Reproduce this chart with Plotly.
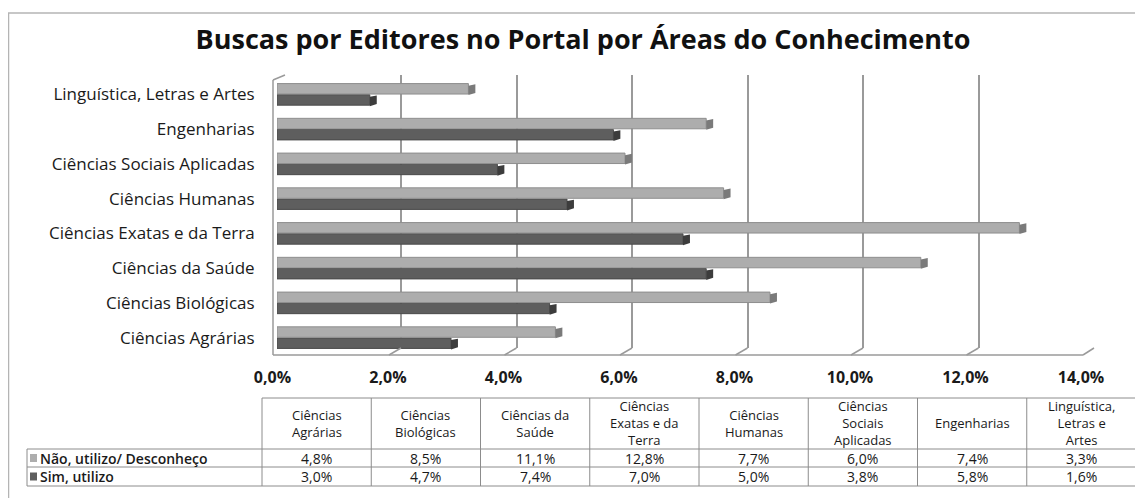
import plotly.graph_objects as go

# the page body adds an 8px margin, so the figure is drawn 8px in from the window edge
OFF = 8
W, H = 1143 - OFF, 498 - OFF

categories = ["Ciências Agrárias", "Ciências Biológicas", "Ciências da Saúde",
              "Ciências Exatas e da Terra", "Ciências Humanas",
              "Ciências Sociais Aplicadas", "Engenharias",
              "Linguística, Letras e Artes"]
header_labels = ["Ciências<br>Agrárias", "Ciências<br>Biológicas", "Ciências da<br>Saúde",
                 "Ciências<br>Exatas e da<br>Terra", "Ciências<br>Humanas",
                 "Ciências<br>Sociais<br>Aplicadas", "Engenharias",
                 "Linguística,<br>Letras e<br>Artes"]
nao = [4.8, 8.5, 11.1, 12.8, 7.7, 6.0, 7.4, 3.3]
sim = [3.0, 4.7, 7.4, 7.0, 5.0, 3.8, 5.8, 1.6]
series_names = ["Não, utilizo/ Desconheço", "Sim, utilizo"]
tick_vals = [0, 2, 4, 6, 8, 10, 12, 14]
tick_text = ["0,0%", "2,0%", "4,0%", "6,0%", "8,0%", "10,0%", "12,0%", "14,0%"]

LIGHT, DARK = "#adadad", "#5e5e5e"
GRID = "#9a9a9a"
FONT = "Open Sans"
TXT = "#1a1a1a"


def px(x):
    # screen pixel -> paper fraction
    return (x - OFF) / W


def py(y):
    return 1 - (y - OFF) / H


def pct(v):
    return f"{v:.1f}%".replace(".", ",")


fig = go.Figure()

# back wall grid lives on x/y, drawn first
fig.add_trace(go.Scatter(x=[0], y=[0], xaxis="x", yaxis="y", mode="markers",
                         marker=dict(opacity=0), hoverinfo="skip"))
# bars on x2/y2 so they sit in front of the grid (first trace lower in group)
fig.add_trace(go.Bar(y=categories, x=sim, orientation="h", name=series_names[1],
                     xaxis="x2", yaxis="y2",
                     marker=dict(color=DARK, line=dict(color="#4a4a4a", width=1))))
fig.add_trace(go.Bar(y=categories, x=nao, orientation="h", name=series_names[0],
                     xaxis="x2", yaxis="y2",
                     marker=dict(color=LIGHT, line=dict(color="#8e8e8e", width=1))))
# front floor axis carrying the tick labels
fig.add_trace(go.Scatter(x=[0], y=[0], xaxis="x3", yaxis="y", mode="markers",
                         marker=dict(opacity=0), hoverinfo="skip"))

shapes = []
# 3D end caps on the bars
for i in range(len(categories)):
    for v, off, col in [(sim[i], -0.2, "#3c3c3c"), (nao[i], 0.12, "#7a7a7a")]:
        shapes.append(dict(type="path", xref="x2", yref="y2", fillcolor=col,
                           line=dict(width=0),
                           path=f"M {v},{i + off - 0.14} L {v + 0.12},{i + off - 0.08} "
                                f"L {v + 0.12},{i + off + 0.17} L {v},{i + off + 0.13} Z"))

# walls and floor of the 3D frame
frame = [
    (273, 80, 273, 355), (273, 80, 285, 75),
    (273, 355, 1083, 355), (1083, 355, 1094, 348),
]
for x0, y0, x1, y1 in frame:
    shapes.append(dict(type="line", xref="paper", yref="paper",
                       x0=px(x0), y0=py(y0), x1=px(x1), y1=py(y1),
                       line=dict(color=GRID, width=1.5)))
for t in tick_vals[1:-1]:
    xb = 285.5 + t * 57.75
    shapes.append(dict(type="line", xref="paper", yref="paper",
                       x0=px(xb - 12), y0=py(355), x1=px(xb), y1=py(348),
                       line=dict(color=GRID, width=1.5)))

# outer chart border
shapes.append(dict(type="line", xref="paper", yref="paper", x0=px(8), y0=py(13),
                   x1=px(1160), y1=py(13), line=dict(color="#b4b4b4", width=1.5)))
shapes.append(dict(type="line", xref="paper", yref="paper", x0=px(8.5), y0=py(13),
                   x1=px(8.5), y1=py(520), line=dict(color="#b4b4b4", width=1.5)))

# data table
T_L, T_X0, T_X1 = 27, 262, 1136
T_Y0, T_Y1, T_Y2, T_Y3 = 398, 449, 467, 486
col_w = (T_X1 - T_X0) / len(categories)
tl = dict(color="#8c8c8c", width=1)
for k in range(len(categories) + 1):
    xx = T_X0 + k * col_w
    shapes.append(dict(type="line", xref="paper", yref="paper", x0=px(xx), y0=py(T_Y0),
                       x1=px(xx), y1=py(T_Y3), line=tl))
shapes.append(dict(type="line", xref="paper", yref="paper", x0=px(T_X0), y0=py(T_Y0),
                   x1=px(T_X1), y1=py(T_Y0), line=tl))
for yy in (T_Y1, T_Y2, T_Y3):
    shapes.append(dict(type="line", xref="paper", yref="paper", x0=px(T_L), y0=py(yy),
                       x1=px(T_X1), y1=py(yy), line=tl))
shapes.append(dict(type="line", xref="paper", yref="paper", x0=px(T_L), y0=py(T_Y1),
                   x1=px(T_L), y1=py(T_Y3), line=tl))

annotations = []
tf = dict(family=FONT, size=14, color=TXT)
hf = dict(family=FONT, size=13, color=TXT)


def note(x, y, text, font, xanchor="center"):
    annotations.append(dict(x=px(x), y=py(y), xref="paper", yref="paper", text=text,
                            showarrow=False, font=font, xanchor=xanchor,
                            yanchor="middle", align="center"))


for k, lab in enumerate(header_labels):
    cx = T_X0 + (k + 0.5) * col_w
    note(cx, (T_Y0 + T_Y1) / 2 - 0.5, lab, hf)
    note(cx, (T_Y1 + T_Y2) / 2, pct(nao[k]), tf)
    note(cx, (T_Y2 + T_Y3) / 2, pct(sim[k]), tf)
for (yy0, yy1), name, col in [((T_Y1, T_Y2), series_names[0], LIGHT),
                              ((T_Y2, T_Y3), series_names[1], DARK)]:
    cy = (yy0 + yy1) / 2
    shapes.append(dict(type="rect", xref="paper", yref="paper", x0=px(30), x1=px(37),
                       y0=py(cy - 4), y1=py(cy + 4), fillcolor=col, line=dict(width=0)))
    note(38, cy, name, dict(family=FONT, size=14, color=TXT, weight=600), xanchor="left")

fig.update_layout(
    width=W, height=H,
    margin=dict(l=0, r=0, t=0, b=0, pad=0),
    paper_bgcolor="white", plot_bgcolor="rgba(0,0,0,0)",
    showlegend=False,
    barmode="group", bargap=0.36, bargroupgap=0.06,
    title=dict(text="<b>Buscas por Editores no Portal por Áreas do Conhecimento</b>",
               x=px(583), xanchor="center", y=py(40), yanchor="middle",
               font=dict(family=FONT, size=27, color="#111")),
    xaxis=dict(domain=[px(285.5), px(1094)], range=[0, 14], showgrid=True,
               gridcolor=GRID, gridwidth=1.5, tickvals=tick_vals,
               showticklabels=False, zeroline=False, anchor="y", automargin=False),
    yaxis=dict(domain=[py(348), py(75)], range=[0, 1], showgrid=False,
               showticklabels=False, zeroline=False, anchor="x", automargin=False),
    xaxis2=dict(domain=[px(277), px(1089)], range=[0, 14], showgrid=False,
                showticklabels=False, zeroline=False, anchor="y2", automargin=False),
    yaxis2=dict(domain=[py(355), py(77)], type="category", showgrid=False,
                anchor="x2", ticks="outside", ticklen=18, tickcolor="rgba(0,0,0,0)",
                tickfont=dict(family=FONT, size=17, color=TXT),
                showline=False, zeroline=False, automargin=False),
    xaxis3=dict(domain=[px(272.5), px(1081)], range=[0, 14],
                anchor="free", position=py(355), side="bottom",
                tickvals=tick_vals, ticktext=tick_text, showgrid=False,
                ticks="outside", ticklen=8, tickcolor="rgba(0,0,0,0)",
                tickfont=dict(family=FONT, size=16, color=TXT, weight="bold"),
                zeroline=False, automargin=False),
    shapes=shapes,
    annotations=annotations,
)

fig.write_html("out.html")
